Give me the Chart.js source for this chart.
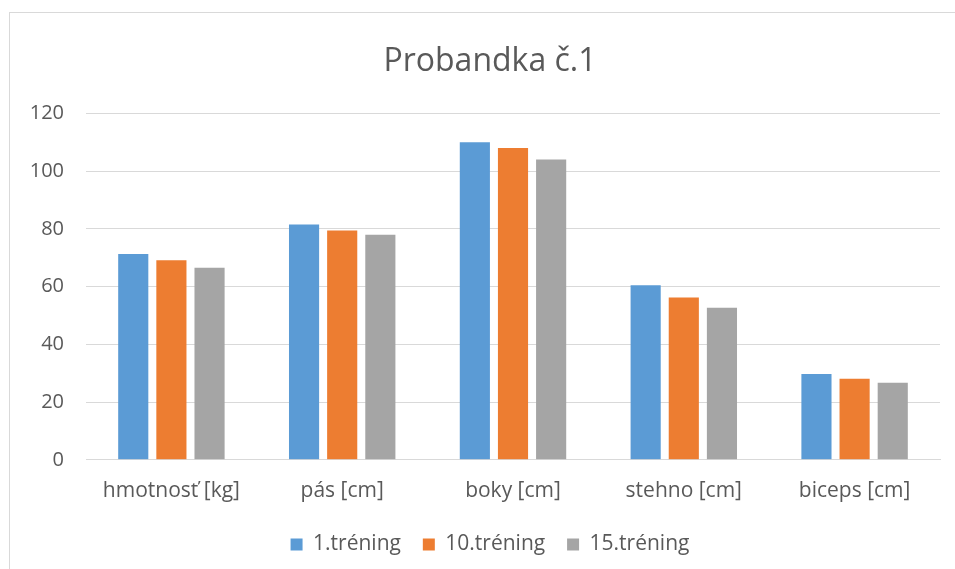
<!DOCTYPE html>
<html>
<head>
<meta charset="utf-8">
<script src="https://cdn.jsdelivr.net/npm/chart.js@4"></script>
<style>
html,body{margin:0;padding:0;background:#fff;overflow:hidden;}
#wrap{position:absolute;left:0;top:0;width:995px;height:569px;}
#frame{position:absolute;left:9px;top:12px;width:960px;height:600px;border:1px solid #d9d9d9;box-sizing:border-box;pointer-events:none;}
</style>
</head>
<body>
<div id="wrap"><canvas id="c" width="995" height="569"></canvas></div>
<div id="frame"></div>
<script>
const categories = ["hmotnosť [kg]", "pás [cm]", "boky [cm]", "stehno [cm]", "biceps [cm]"];
const seriesNames = ["1.tréning", "10.tréning", "15.tréning"];
const training1 = [71.3, 81.5, 110, 60.5, 29.7];
const training10 = [69.1, 79.4, 108, 56.2, 28.1];
const training15 = [66.5, 78, 104, 52.7, 26.7];
const yTicks = [0, 20, 40, 60, 80, 100, 120];
const colors = ["#5B9BD5", "#ED7D31", "#A5A5A5"];

const FONT = "'Open Sans', sans-serif";
const TXT = "#595959";

new Chart(document.getElementById('c'), {
  type: 'bar',
  data: {
    labels: categories,
    datasets: [training1, training10, training15].map((d, i) => ({
      label: seriesNames[i],
      data: d,
      backgroundColor: colors[i],
      borderWidth: 0,
      categoryPercentage: 0.67,
      barPercentage: 0.79
    }))
  },
  options: {
    responsive: false,
    animation: false,
    layout: { padding: { left: 0, right: 15, top: 20, bottom: 4 } },
    plugins: {
      title: {
        display: true,
        text: "Probandka č.1",
        color: TXT,
        font: { family: FONT, size: 32, weight: 'normal' },
        padding: { top: 23, bottom: 32 }
      },
      legend: {
        position: 'bottom',
        labels: {
          color: TXT,
          font: { family: FONT, size: 21 },
          boxWidth: 12,
          boxHeight: 12,
          padding: 11,
          generateLabels: (chart) => {
            const items = Chart.defaults.plugins.legend.labels.generateLabels(chart);
            items.forEach((it, i) => { if (i < items.length - 1) it.text = it.text + '  '; });
            return items;
          }
        }
      },
      tooltip: { enabled: false }
    },
    scales: {
      x: {
        grid: { display: false, drawTicks: false },
        border: { display: true, color: '#d9d9d9', width: 1 },
        ticks: { color: TXT, font: { family: FONT, size: 21 }, padding: 19, maxRotation: 0 }
      },
      y: {
        min: 0, max: 120,
        afterFit: (s) => { s.width = 86; },
        afterBuildTicks: (s) => { s.ticks = yTicks.map(v => ({ value: v })); },
        grid: { color: '#d9d9d9', lineWidth: 1, drawTicks: false },
        border: { display: false },
        ticks: { color: TXT, font: { family: FONT, size: 20 }, padding: 22 }
      },
      yRight: {
        position: 'right',
        min: 0, max: 120,
        afterFit: (s) => { s.width = 40; },
        grid: { display: false, drawTicks: false },
        border: { display: false },
        ticks: { display: false }
      }
    }
  }
});
</script>
</body>
</html>
